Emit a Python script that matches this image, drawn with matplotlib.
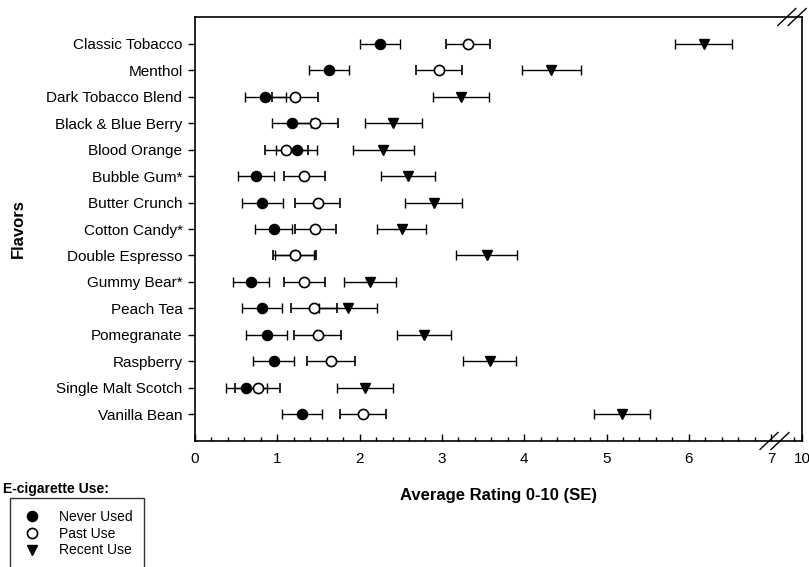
import numpy as np
import matplotlib
matplotlib.use("Agg")
import matplotlib.pyplot as plt
from matplotlib.lines import Line2D

plt.rcParams['font.family'] = ['Liberation Sans', 'DejaVu Sans']

flavors = ["Classic Tobacco", "Menthol", "Dark Tobacco Blend", "Black & Blue Berry",
           "Blood Orange", "Bubble Gum*", "Butter Crunch", "Cotton Candy*",
           "Double Espresso", "Gummy Bear*", "Peach Tea", "Pomegranate",
           "Raspberry", "Single Malt Scotch", "Vanilla Bean"]

never_mean = [2.25, 1.63, 0.855, 1.175, 1.235, 0.74, 0.82, 0.955, 1.21, 0.685, 0.815, 0.87, 0.955, 0.625, 1.30]
never_se = [0.245, 0.245, 0.245, 0.24, 0.25, 0.22, 0.245, 0.225, 0.24, 0.22, 0.24, 0.245, 0.245, 0.25, 0.247]

past_mean = [3.32, 2.965, 1.21, 1.46, 1.11, 1.33, 1.49, 1.46, 1.21, 1.33, 1.445, 1.49, 1.655, 0.76, 2.04]
past_se = [0.27, 0.28, 0.28, 0.275, 0.26, 0.25, 0.275, 0.25, 0.26, 0.245, 0.28, 0.285, 0.29, 0.27, 0.275]

recent_mean = [6.18, 4.33, 3.23, 2.41, 2.29, 2.59, 2.90, 2.51, 3.545, 2.13, 1.856, 2.78, 3.58, 2.07, 5.19]
recent_se = [0.35, 0.36, 0.34, 0.35, 0.375, 0.33, 0.345, 0.30, 0.37, 0.315, 0.35, 0.33, 0.325, 0.34, 0.34]

major_ticks = [0, 1, 2, 3, 4, 5, 6, 7, 10]
major_labels = ["0", "1", "2", "3", "4", "5", "6", "7", "10"]

# broken axis: everything past 7 squeezed
def fwd(x):
    x = np.asarray(x, dtype=float)
    return np.where(x <= 7, x, 7 + (x - 7) * 0.125)

def inv(y):
    y = np.asarray(y, dtype=float)
    return np.where(y <= 7, y, 7 + (y - 7) / 0.125)

fig = plt.figure(figsize=(8.09, 5.67), dpi=100)
ax = fig.add_axes([195/809, 1 - 441/567, 607/809, 424/567])

ypos = np.arange(len(flavors))
ebkw = dict(ls='none', ecolor='black', elinewidth=1.0, capsize=3.4, capthick=1.0)
ax.errorbar(never_mean, ypos, xerr=never_se, fmt='o', ms=7.3, mfc='black', mec='black', **ebkw)
ax.errorbar(past_mean, ypos, xerr=past_se, fmt='o', ms=7.3, mfc='white', mec='black', mew=1.2, **ebkw)
ax.errorbar(recent_mean, ypos, xerr=recent_se, fmt='v', ms=7.8, mfc='black', mec='black', **ebkw)

ax.set_xscale('function', functions=(fwd, inv))
ax.set_xlim(0, 10)
ax.set_ylim(len(flavors) - 1 + 1.02, -1.02)

ax.set_xticks(major_ticks)
ax.set_xticklabels(major_labels, fontsize=11)
minor = [v for v in np.arange(0.2, 7.0, 0.2) if abs(v - round(v)) > 1e-6] + [9.2]
ax.set_xticks(minor, minor=True)
ax.tick_params(axis='x', which='major', direction='in', length=5, width=1, pad=8)
ax.tick_params(axis='x', which='minor', direction='in', length=3, width=1)
ax.set_yticks(ypos)
ax.set_yticklabels(flavors, fontsize=11)
ax.tick_params(axis='y', direction='out', length=5, width=1, pad=4)

for s in ax.spines.values():
    s.set_linewidth(1.2)

ax.set_xlabel("Average Rating 0-10 (SE)", fontsize=12, fontweight='bold', labelpad=16)
ax.set_ylabel("Flavors", fontsize=12, fontweight='bold', labelpad=15)

# break marks
for cx, cy in [(0.9456, 0.0), (0.9638, 0.0), (0.975, 1.0), (0.992, 1.0)]:
    ax.plot([cx - 0.0148, cx + 0.0148], [cy - 0.02, cy + 0.02], color='black',
            lw=1.0, transform=ax.transAxes, clip_on=False)

fig.text(3/809, 1 - 489/567, "E-cigarette Use:", fontsize=10, fontweight='bold',
         ha='left', va='center')
handles = [
    Line2D([], [], ls='none', marker='o', ms=7.3, mfc='black', mec='black'),
    Line2D([], [], ls='none', marker='o', ms=7.3, mfc='white', mec='black', mew=1.2),
    Line2D([], [], ls='none', marker='v', ms=7.8, mfc='black', mec='black'),
]
leg = fig.legend(handles, ["Never Used", "Past Use", "Recent Use"], loc='upper left',
                 bbox_to_anchor=(10/809, 1 - 498/567), fontsize=10, frameon=True,
                 fancybox=False, edgecolor='black', handlelength=1.45, handletextpad=1.2,
                 labelspacing=0.2, borderpad=0.85, borderaxespad=0.0)
leg.get_frame().set_linewidth(1.0)

fig.savefig("out.png", dpi=100)
